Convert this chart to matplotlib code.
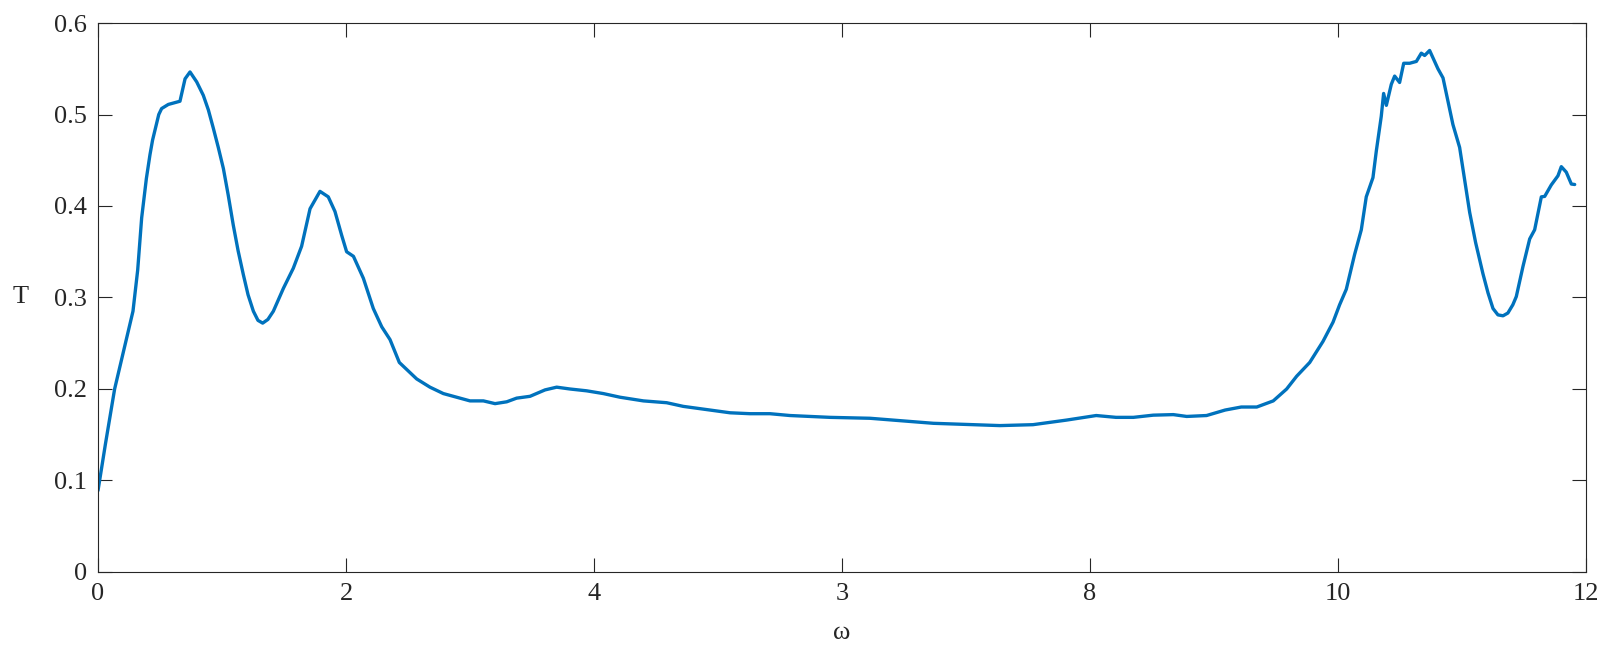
import matplotlib
matplotlib.use("Agg")
import matplotlib.pyplot as plt

# transmission T vs frequency omega
omega = [0.0, 0.06, 0.134, 0.2, 0.282, 0.32, 0.352, 0.39, 0.419, 0.44,
         0.46, 0.49, 0.513, 0.567, 0.661, 0.702, 0.742, 0.796, 0.849, 0.89,
         0.93, 0.97, 1.011, 1.05, 1.091, 1.13, 1.172, 1.21, 1.253, 1.29,
         1.328, 1.37, 1.414, 1.495, 1.575, 1.642, 1.71, 1.79, 1.857, 1.911,
         1.965, 2.005, 2.06, 2.14, 2.22, 2.288, 2.355, 2.43, 2.57, 2.677,
         2.785, 2.892, 3.0, 3.108, 3.202, 3.296, 3.376, 3.484, 3.605, 3.699,
         3.806, 3.941, 4.075, 4.21, 4.398, 4.586, 4.72, 4.882, 5.097, 5.258,
         5.419, 5.581, 5.742, 5.903, 6.226, 6.737, 7.274, 7.54, 7.81, 8.05,
         8.21, 8.35, 8.51, 8.672, 8.78, 8.94, 9.09, 9.22, 9.345, 9.478,
         9.586, 9.667, 9.772, 9.879, 9.96, 10.013, 10.067, 10.134, 10.188, 10.228,
         10.282, 10.309, 10.349, 10.368, 10.39, 10.43, 10.457, 10.497, 10.53, 10.578,
         10.632, 10.672, 10.699, 10.739, 10.806, 10.847, 10.927, 10.981, 11.02, 11.062,
         11.11, 11.169, 11.21, 11.25, 11.29, 11.331, 11.37, 11.41, 11.438, 11.492,
         11.546, 11.586, 11.64, 11.667, 11.72, 11.774, 11.801, 11.841, 11.882, 11.909]
T = [0.089, 0.14, 0.2, 0.238, 0.285, 0.33, 0.387, 0.43, 0.456, 0.472,
     0.483, 0.5, 0.5065, 0.511, 0.5145, 0.539, 0.5465, 0.5356, 0.521, 0.505,
     0.485, 0.464, 0.441, 0.412, 0.379, 0.351, 0.325, 0.303, 0.285, 0.275,
     0.272, 0.276, 0.285, 0.31, 0.332, 0.356, 0.397, 0.416, 0.41, 0.394,
     0.368, 0.35, 0.345, 0.321, 0.288, 0.268, 0.254, 0.229, 0.211, 0.202,
     0.195, 0.191, 0.187, 0.187, 0.184, 0.186, 0.19, 0.192, 0.199, 0.202,
     0.2, 0.198, 0.195, 0.191, 0.187, 0.185, 0.181, 0.178, 0.174, 0.173,
     0.173, 0.171, 0.17, 0.169, 0.168, 0.1625, 0.16, 0.161, 0.166, 0.171,
     0.169, 0.169, 0.1714, 0.172, 0.17, 0.171, 0.177, 0.1803, 0.1803, 0.187,
     0.2, 0.214, 0.229, 0.252, 0.273, 0.292, 0.309, 0.347, 0.374, 0.41,
     0.431, 0.46, 0.498, 0.523, 0.51, 0.533, 0.542, 0.535, 0.556, 0.556,
     0.558, 0.567, 0.5645, 0.57, 0.55, 0.54, 0.489, 0.464, 0.43, 0.393,
     0.36, 0.326, 0.305, 0.288, 0.281, 0.28, 0.283, 0.292, 0.301, 0.334,
     0.364, 0.374, 0.41, 0.4105, 0.423, 0.433, 0.443, 0.437, 0.424, 0.4235]

xticks = [0, 2, 4, 6, 8, 10, 12]
xtick_labels = ["0", "2", "4", "3", "8", "10", "12"]
yticks = [0, 0.1, 0.2, 0.3, 0.4, 0.5, 0.6]
ytick_labels = ["0", "0.1", "0.2", "0.3", "0.4", "0.5", "0.6"]

plt.rcParams["font.family"] = ["Liberation Serif", "DejaVu Serif"]

fig = plt.figure(figsize=(16.2, 6.48), dpi=100)
ax = fig.add_axes([0.0605, 0.1173, 0.9185, 0.8472])

ax.plot(omega, T, color="#0072BD", linewidth=2.4,
        solid_joinstyle="round", solid_capstyle="round")

ax.set_xlim(0, 12)
ax.set_ylim(0, 0.6)
ax.set_xticks(xticks)
ax.set_xticklabels(xtick_labels)
ax.set_yticks(yticks)
ax.set_yticklabels(ytick_labels)
ax.tick_params(direction="in", length=10, width=0.8, top=True, right=True,
               labelsize=19, colors="#262626", pad=8)
for s in ax.spines.values():
    s.set_color("#262626")
    s.set_linewidth(0.8)

ax.set_xlabel("ω", fontsize=19, color="#262626", labelpad=12)
ax.set_ylabel("T", fontsize=19, color="#262626", rotation=0, labelpad=24, va="center")

fig.savefig("out.png", dpi=100)
